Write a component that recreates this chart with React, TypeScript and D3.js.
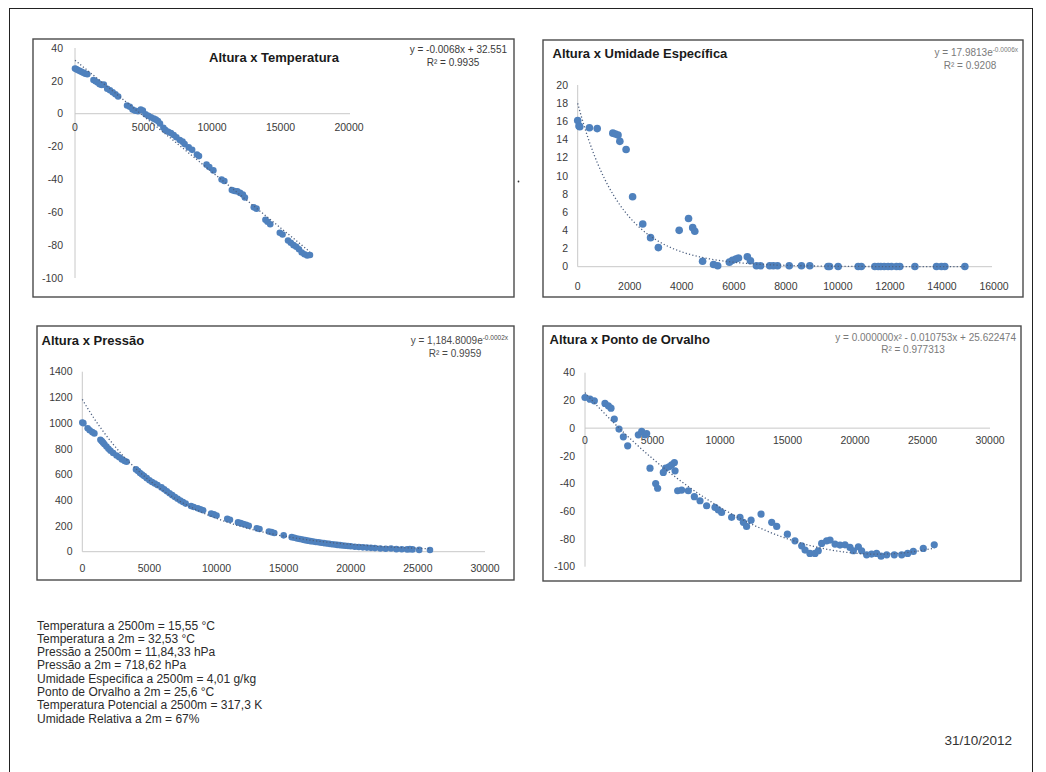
import React from "react";
import * as d3 from "d3";

const FONT = "'Liberation Sans', Arial, Helvetica, sans-serif";
const MARK = "#4f81bd";
const TREND = "#4d6080";

// ---- Altura x Temperatura ----
const tempHeight = [0, 80, 160, 300, 450, 600, 750, 900, 1350, 1500, 1650, 1800, 1950, 2100, 2350, 2550, 2750, 2950, 3150, 3800, 4000, 4200, 4400, 4600, 4800, 4950, 5150, 5350, 5550, 5750, 5900, 6050, 6200, 6450, 6600, 6800, 7000, 7200, 7400, 7650, 7850, 8000, 8300, 8550, 8900, 9050, 9600, 9800, 10100, 10700, 10900, 11450, 11650, 11850, 12050, 12250, 12400, 13050, 13250, 13900, 14050, 14250, 14950, 15150, 15550, 15750, 15950, 16150, 16350, 16550, 16750, 16950, 17150];
const tempValue = [27.5, 27.2, 26.8, 26.2, 25.6, 25, 24.4, 24, 20.5, 19.8, 19, 18, 17.5, 17.8, 15.2, 14.3, 13, 11.8, 10.5, 5, 4.2, 2.5, 1.8, 1.5, 2.6, 2, -0.3, -1.2, -2.2, -3, -3.6, -4.4, -6, -8.5, -10, -11, -11.8, -13, -14.3, -16, -17, -18.5, -20.5, -22, -24.8, -25.8, -31, -32.5, -34.5, -40, -41, -46.5, -47, -47.3, -48.2, -49.2, -51, -57, -57.8, -64.5, -65.8, -67.3, -72.5, -73.5, -77.2, -78.5, -80, -81, -82.5, -84.5, -85.5, -86.3, -86];
const tempXTicks = [0, 5000, 10000, 15000, 20000];
const tempYTicks = [40, 20, 0, -20, -40, -60, -80, -100];
const tempSlope = -0.0068;
const tempIntercept = 32.551;

// ---- Altura x Umidade Específica ----
const humHeight = [0, 50, 80, 450, 750, 1350, 1450, 1550, 1620, 1860, 2110, 2500, 2800, 3100, 3900, 4260, 4420, 4500, 4800, 5220, 5380, 5830, 5950, 6080, 6180, 6520, 6640, 6870, 7030, 7380, 7520, 7680, 8130, 8600, 8920, 9620, 9680, 10010, 10780, 10900, 11420, 11550, 11650, 11780, 11930, 12060, 12250, 12380, 12960, 13790, 13980, 14110, 14880];
const humValue = [16.1, 15.5, 15.4, 15.3, 15.2, 14.7, 14.6, 14.5, 13.8, 12.9, 7.7, 4.7, 3.2, 2.1, 4.0, 5.3, 4.3, 3.9, 0.6, 0.25, 0.1, 0.5, 0.7, 0.85, 0.95, 1.1, 0.65, 0.1, 0.1, 0.1, 0.1, 0.1, 0.1, 0.1, 0.1, 0.02, 0.02, 0.02, 0.02, 0.02, 0.02, 0.02, 0.02, 0.02, 0.02, 0.02, 0.02, 0.02, 0.02, 0.02, 0.02, 0.02, 0.02];
const humXTicks = [0, 2000, 4000, 6000, 8000, 10000, 12000, 14000, 16000];
const humYTicks = [0, 2, 4, 6, 8, 10, 12, 14, 16, 18, 20];
const humCoef = 17.9813;
const humRate = -0.0006;

// ---- Altura x Pressão ----
const presHeight = [0, 80, 400, 550, 750, 900, 1350, 1450, 1550, 1650, 1800, 1950, 2100, 2300, 2550, 2750, 2950, 3150, 3300, 4000, 4150, 4300, 4450, 4600, 4800, 5000, 5200, 5400, 5600, 5900, 6100, 6300, 6500, 6700, 6900, 7100, 7300, 7500, 7700, 8100, 8300, 8600, 8800, 9000, 9600, 9800, 10000, 10800, 11000, 11600, 11800, 12000, 12200, 12400, 13000, 13200, 13900, 14100, 14300, 15000, 15600, 15800, 16000, 16200, 16400, 16600, 16800, 17000, 17200, 17400, 17600, 17800, 18000, 18200, 18400, 18600, 18800, 19000, 19200, 19400, 19600, 19800, 20000, 20300, 20600, 20900, 21200, 21500, 21800, 22200, 22600, 23000, 23400, 23800, 24200, 24400, 24600, 25100, 25900];
const presValue = [1005, 1000, 960, 945, 930, 920, 870, 860, 848, 835, 818, 800, 785, 768, 748, 735, 718, 706, 700, 640, 628, 612, 600, 588, 572, 555, 542, 530, 518, 500, 485, 470, 455, 440, 425, 412, 398, 386, 374, 356, 348, 338, 330, 322, 296, 290, 282, 255, 248, 228, 222, 216, 209, 202, 182, 176, 157, 152, 146, 127, 113, 108, 103, 99, 94, 90, 86, 82, 79, 76, 73, 70, 67, 64, 61, 58, 56, 53, 51, 48, 46, 44, 42, 39, 36, 34, 32, 30, 28, 25, 23, 25, 20, 19, 18, 20, 18, 14, 13];
const presXTicks = [0, 5000, 10000, 15000, 20000, 25000, 30000];
const presYTicks = [0, 200, 400, 600, 800, 1000, 1200, 1400];
const presCoef = 1184.8009;
const presRate = -0.000152;

// ---- Altura x Ponto de Orvalho ----
const dewHeight = [0, 370, 690, 1480, 1730, 1925, 2170, 2520, 2840, 3160, 3950, 4200, 4440, 4570, 4815, 5235, 5380, 5800, 5975, 6220, 6420, 6620, 6670, 6865, 7160, 7655, 8100, 8520, 9010, 9630, 9880, 10120, 10860, 11480, 11730, 11970, 12300, 13040, 13830, 14200, 14990, 15550, 16050, 16300, 16660, 17040, 17280, 17530, 17900, 18150, 18520, 18890, 19260, 19630, 19880, 20250, 20490, 20860, 21230, 21600, 21930, 22350, 22910, 23460, 23900, 24320, 25060, 25870];
const dewValue = [22.1, 20.9, 19.7, 17.8, 16.1, 14.4, 6.5, -0.7, -6.3, -12.8, -4.8, -2.4, -4.8, -3.9, -28.9, -40, -43.4, -32, -28.9, -27.9, -26.5, -24.8, -30.8, -45.2, -44.7, -45.2, -49.5, -52.4, -56, -57.2, -59.1, -60.8, -64.4, -64.4, -68, -70.9, -66.4, -62, -68, -70.9, -76.5, -81.3, -84.9, -88, -90.4, -90.4, -88.5, -83.2, -81.3, -80.8, -83.7, -84.4, -84.2, -86.1, -88.5, -85.6, -88.5, -91.4, -90.9, -90.4, -92.4, -91.4, -91.4, -91.4, -90.4, -89, -86.8, -84.2];
const dewXTicks = [0, 5000, 10000, 15000, 20000, 25000, 30000];
const dewYTicks = [40, 20, 0, -20, -40, -60, -80, -100];
const dewA = 0.000000248;
const dewB = -0.010753;
const dewC = 25.622474;

// ---- Resumo ----
const summaryLines = [
  "Temperatura a 2500m = 15,55 °C",
  "Temperatura a 2m = 32,53 °C",
  "Pressão a 2500m = 11,84,33 hPa",
  "Pressão a 2m = 718,62 hPa",
  "Umidade Especifica a 2500m = 4,01 g/kg",
  "Ponto de Orvalho a 2m = 25,6 °C",
  "Temperatura Potencial a 2500m = 317,3 K",
  "Umidade Relativa a 2m = 67%",
];
const dateLabel = "31/10/2012";

type PanelProps = {
  box: [number, number, number, number];
  xDomain: [number, number];
  yDomain: [number, number];
  xRange: [number, number];
  yRange: [number, number];
  xTicks: number[];
  yTicks: number[];
  xs: number[];
  ys: number[];
  trend: (x: number) => number;
  r: number;
  yLabelRight: number;
  xLabelBase: number;
  xAxisValue: number;
  xAxisEnd: number;
  title: string;
  titlePos: [number, number, "start" | "middle" | "end"];
  eq: React.ReactNode;
  eqPos: [number, number];
  r2: string;
  r2Pos: [number, number];
  eqColor: string;
};

function Panel(p: PanelProps) {
  const x = d3.scaleLinear().domain(p.xDomain).range(p.xRange);
  const y = d3.scaleLinear().domain(p.yDomain).range(p.yRange);
  const xMax = d3.max(p.xs) as number;
  const trendXs = d3.range(0, xMax + 1, xMax / 200);
  const trendPts: [number, number][] = trendXs
    .map((v) => [v, p.trend(v)] as [number, number])
    .filter((d) => d[1] >= p.yDomain[0] && d[1] <= p.yDomain[1]);
  const line = d3
    .line<[number, number]>()
    .x((d) => x(d[0]))
    .y((d) => y(d[1]));
  const [bx0, by0, bx1, by1] = p.box;
  const fmt = (v: number) => String(v);
  return (
    <g>
      <rect x={bx0} y={by0} width={bx1 - bx0} height={by1 - by0} fill="#fff" stroke="#4a4a4a" strokeWidth={1.4} />
      {/* axes */}
      <line x1={x(0)} x2={x(0)} y1={y(p.yDomain[0])} y2={y(p.yDomain[1])} stroke="#c8c8c8" strokeWidth={1} />
      <line x1={x(0)} x2={p.xAxisEnd} y1={y(p.xAxisValue)} y2={y(p.xAxisValue)} stroke="#c8c8c8" strokeWidth={1} />
      <g fontFamily={FONT} fontSize={10.5} fill="#3a3a3a">
        {p.yTicks.map((t) => (
          <text key={"y" + t} x={p.yLabelRight} y={y(t)} dy="0.35em" textAnchor="end">
            {fmt(t)}
          </text>
        ))}
        {p.xTicks.map((t) => (
          <text key={"x" + t} x={x(t)} y={p.xLabelBase} textAnchor="middle">
            {fmt(t)}
          </text>
        ))}
      </g>
      {/* points */}
      <g fill={MARK}>
        {p.xs.map((v, i) => (
          <circle key={i} cx={x(v)} cy={y(p.ys[i])} r={p.r} />
        ))}
      </g>
      {/* trendline */}
      <path d={line(trendPts) || ""} fill="none" stroke={TREND} strokeWidth={1.3} strokeDasharray="1.2 2.2" />
      <text x={p.titlePos[0]} y={p.titlePos[1]} textAnchor={p.titlePos[2]} fontFamily={FONT} fontSize={13} fontWeight="bold" fill="#1a1a1a">
        {p.title}
      </text>
      <text x={p.eqPos[0]} y={p.eqPos[1]} textAnchor="end" fontFamily={FONT} fontSize={10} fill={p.eqColor}>
        {p.eq}
      </text>
      <text x={p.r2Pos[0]} y={p.r2Pos[1]} textAnchor="middle" fontFamily={FONT} fontSize={10} fill={p.eqColor}>
        {p.r2}
      </text>
    </g>
  );
}

export default function App() {
  return (
    <svg
      width={1046}
      height={772}
      style={{ position: "absolute", left: 0, top: 0, background: "#fff" }}
    >
      <rect x={0} y={0} width={1046} height={772} fill="#fff" />
      <rect x={9.5} y={8.5} width={1023} height={770} fill="none" stroke="#222" strokeWidth={1} />

      <Panel
        box={[33, 39, 514, 297]}
        xDomain={[0, 20000]}
        yDomain={[-100, 40]}
        xRange={[75, 349]}
        yRange={[278, 48]}
        xTicks={tempXTicks}
        yTicks={tempYTicks}
        xs={tempHeight}
        ys={tempValue}
        trend={(v) => tempSlope * v + tempIntercept}
        r={3.3}
        yLabelRight={63}
        xLabelBase={131}
        xAxisValue={0}
        xAxisEnd={350}
        title="Altura x Temperatura"
        titlePos={[274, 62, "middle"]}
        eq={"y = -0.0068x + 32.551"}
        eqPos={[507, 53]}
        r2="R² = 0.9935"
        r2Pos={[453, 65.5]}
        eqColor="#3a3a3a"
      />

      <Panel
        box={[543, 40, 1023, 297]}
        xDomain={[0, 16000]}
        yDomain={[0, 20]}
        xRange={[577.7, 994]}
        yRange={[266.7, 85]}
        xTicks={humXTicks}
        yTicks={humYTicks}
        xs={humHeight}
        ys={humValue}
        trend={(v) => humCoef * Math.exp(humRate * v)}
        r={3.8}
        yLabelRight={568}
        xLabelBase={290}
        xAxisValue={0}
        xAxisEnd={992}
        title="Altura x Umidade Específica"
        titlePos={[552.5, 58, "start"]}
        eq={
          <>
            y = 17.9813e
            <tspan fontSize={6.5} dy={-4}>-0.0006x</tspan>
          </>
        }
        eqPos={[1018, 55.5]}
        r2="R² = 0.9208"
        r2Pos={[970, 68.5]}
        eqColor="#7a7a7a"
      />

      <Panel
        box={[37, 326, 514, 580]}
        xDomain={[0, 30000]}
        yDomain={[0, 1400]}
        xRange={[82.3, 485]}
        yRange={[551.7, 371.7]}
        xTicks={presXTicks}
        yTicks={presYTicks}
        xs={presHeight}
        ys={presValue}
        trend={(v) => presCoef * Math.exp(presRate * v)}
        r={3.3}
        yLabelRight={72.5}
        xLabelBase={571.5}
        xAxisValue={0}
        xAxisEnd={485}
        title="Altura x Pressão"
        titlePos={[41.5, 345, "start"]}
        eq={
          <>
            y = 1,184.8009e
            <tspan fontSize={6.5} dy={-4}>-0.0002x</tspan>
          </>
        }
        eqPos={[508, 344]}
        r2="R² = 0.9959"
        r2Pos={[455, 356.5]}
        eqColor="#4a4a4a"
      />

      <Panel
        box={[543, 326, 1021, 581]}
        xDomain={[0, 30000]}
        yDomain={[-100, 40]}
        xRange={[585, 990]}
        yRange={[566.7, 372.7]}
        xTicks={dewXTicks}
        yTicks={dewYTicks}
        xs={dewHeight}
        ys={dewValue}
        trend={(v) => dewA * v * v + dewB * v + dewC}
        r={3.6}
        yLabelRight={575}
        xLabelBase={444}
        xAxisValue={0}
        xAxisEnd={990}
        title="Altura x Ponto de Orvalho"
        titlePos={[549.5, 344, "start"]}
        eq={"y = 0.000000x² - 0.010753x + 25.622474"}
        eqPos={[1016, 340.5]}
        r2="R² = 0.977313"
        r2Pos={[913, 352.5]}
        eqColor="#7a7a7a"
      />

      <circle cx={518.5} cy={181.5} r={0.9} fill="#333" />

      <g fontFamily={FONT} fontSize={12} fill="#2b2b2b">
        {summaryLines.map((s, i) => (
          <text key={i} x={37} y={629.5 + i * 13.3}>
            {s}
          </text>
        ))}
      </g>
      <text x={1012} y={744.5} textAnchor="end" fontFamily={FONT} fontSize={13.5} fill="#333">
        {dateLabel}
      </text>
    </svg>
  );
}
